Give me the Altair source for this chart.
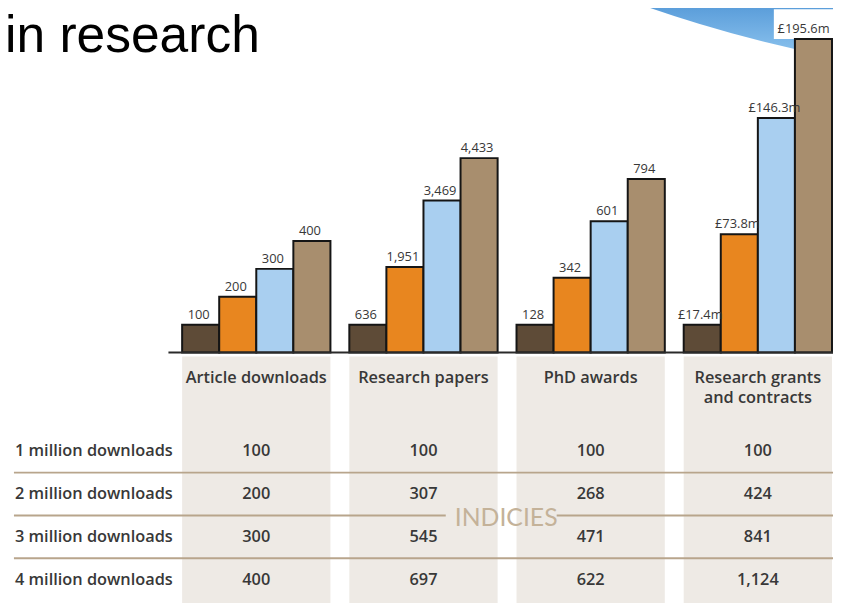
import altair as alt
import pandas as pd

# ---------------- data ----------------
categories = ["Article downloads", "Research papers", "PhD awards", "Research grants and contracts"]
header_text = ["Article downloads", "Research papers", "PhD awards", "Research grants\nand contracts"]
levels = ["1 million downloads", "2 million downloads", "3 million downloads", "4 million downloads"]

article_index = [100, 200, 300, 400]
papers_index = [100, 307, 545, 697]
phd_index = [100, 268, 471, 622]
grants_index = [100, 424, 841, 1124]

article_raw = ["100", "200", "300", "400"]
papers_raw = ["636", "1,951", "3,469", "4,433"]
phd_raw = ["128", "342", "601", "794"]
grants_raw = ["£17.4m", "£73.8m", "£146.3m", "£195.6m"]

bar_colors = ["#5e4b37", "#e8861f", "#a9cff0", "#a88e6e"]

ROWS = "rows"
x_domain = [ROWS] + categories

records = []
for cat, idxs, raws in zip(categories,
                           [article_index, papers_index, phd_index, grants_index],
                           [article_raw, papers_raw, phd_raw, grants_raw]):
    for lev, i, r in zip(levels, idxs, raws):
        records.append({"category": cat, "level": lev, "index": i, "raw": r})
df = pd.DataFrame(records)
df["last"] = (df["category"] == categories[-1]) & (df["level"] == levels[-1])
dummy = pd.DataFrame({"k": [0]})

FONT = "Open Sans"
TXT = "#383838"
SEP = "#b8a58c"

xscale = alt.Scale(domain=x_domain, paddingInner=0.113, paddingOuter=0.006)
X = alt.X("category:N", scale=xscale, axis=None)
XOFF = alt.XOffset("level:N", scale=alt.Scale(domain=levels, paddingInner=0, paddingOuter=0))
Y = alt.Y("index:Q", scale=alt.Scale(domain=[0, 1225], range=[345, 0]), axis=None)
YL = alt.Y("level:N", scale=alt.Scale(domain=levels, range=[423, 596], paddingInner=0, paddingOuter=0), axis=None)
YL_END = alt.Y("level:N", scale=alt.Scale(domain=levels, range=[423, 596], paddingInner=0, paddingOuter=0),
               axis=None, bandPosition=1)

# ---------------- decoration: blue swoosh in the top-right corner ----------------
swoosh = alt.Chart(dummy).mark_arc(
    radius=1369, radius2=0, theta=0, theta2=6.2832, stroke=None, opacity=1,
    fill=alt.LinearGradient(gradient="linear",
                            stops=[alt.GradientStop(color="#5a9dda", offset=0),
                                   alt.GradientStop(color="#8cc3ee", offset=1)],
                            x1=0.5, x2=0.5, y1=0.972, y2=0.99),
).encode(x=alt.value(1089), y=alt.value(-1297))

title = alt.Chart(dummy).mark_text(
    text="in research", font="Liberation Sans", fontSize=52, align="left",
    baseline="alphabetic", color="black",
).encode(x=alt.value(-9), y=alt.value(42))

label_boxes = alt.Chart(df).transform_filter("datum.last").mark_rect(
    color="white", width=80, y2Offset=-30).encode(
    x=X, xOffset=XOFF, y=Y, y2="index:Q")

bars = alt.Chart(df).mark_bar(stroke="#151515", strokeWidth=2).encode(
    x=X, xOffset=XOFF, y=Y,
    color=alt.Color("level:N", scale=alt.Scale(domain=levels, range=bar_colors), legend=None),
)

bar_labels = alt.Chart(df).transform_filter("!datum.last").mark_text(
    font=FONT, fontSize=13, color=TXT, dy=-6, dx=-2, baseline="alphabetic"
).encode(x=X, xOffset=XOFF, y=Y, text="raw:N")

last_label = alt.Chart(df).transform_filter("datum.last").mark_text(
    font=FONT, fontSize=13, color=TXT, dy=-6, dx=-10, baseline="alphabetic"
).encode(x=X, xOffset=XOFF, y=Y, text="raw:N")

baseline = alt.Chart(dummy).mark_rule(color="#2a2a2a", strokeWidth=2).encode(
    x=alt.value(156), x2=alt.value(832), y=alt.value(345))

# ---------------- table part ----------------
shade = alt.Chart(pd.DataFrame({"category": categories})).mark_rect(color="#eeeae5").encode(
    x=X, y=alt.value(349), y2=alt.value(600))

headers = alt.Chart(pd.DataFrame({"category": categories, "header": header_text})).mark_text(
    font=FONT, fontSize=16.5, fontWeight=600, color=TXT, lineBreak="\n", lineHeight=20,
    baseline="alphabetic"
).encode(x=X, y=alt.value(376), text="header:N")

row_labels = alt.Chart(pd.DataFrame({"category": [ROWS] * 4, "level": levels})).mark_text(
    font=FONT, fontSize=16.5, fontWeight=600, color=TXT, align="left", baseline="middle"
).encode(x=alt.X("category:N", scale=xscale, axis=None, bandPosition=0), y=YL, text="level:N")

values = alt.Chart(df).mark_text(font=FONT, fontSize=16.5, fontWeight=600, color=TXT,
                                 baseline="middle").encode(
    x=X, y=YL, text=alt.Text("index:Q", format=",d"))

seps = alt.Chart(pd.DataFrame({"level": [levels[0], levels[2]]})).mark_rule(
    color=SEP, strokeWidth=2).encode(x=alt.value(0), x2=alt.value(828), y=YL_END)
mid_df = pd.DataFrame({"level": [levels[1]]})
sep_mid_a = alt.Chart(mid_df).mark_rule(color=SEP, strokeWidth=2).encode(
    x=alt.value(0), x2=alt.value(436), y=YL_END)
sep_mid_b = alt.Chart(mid_df).mark_rule(color=SEP, strokeWidth=2).encode(
    x=alt.value(548), x2=alt.value(828), y=YL_END)

indicies = alt.Chart(dummy).mark_text(
    text="INDICIES", font="Lato", fontSize=25, color="#c4b299", baseline="alphabetic"
).encode(x=alt.value(497), y=alt.value(520))

chart = alt.layer(
    swoosh, title, shade, seps, sep_mid_a, sep_mid_b, headers, row_labels, values, indicies,
    label_boxes, bars, bar_labels, last_label, baseline,
).resolve_scale(y="independent").properties(
    width=827, height=595,
    padding={"left": 6, "top": 0, "right": 0, "bottom": 0},
    autosize=alt.AutoSizeParams(type="none"),
).configure_view(stroke=None)

chart.save("out.html", embed_options={"renderer": "svg", "actions": False})
